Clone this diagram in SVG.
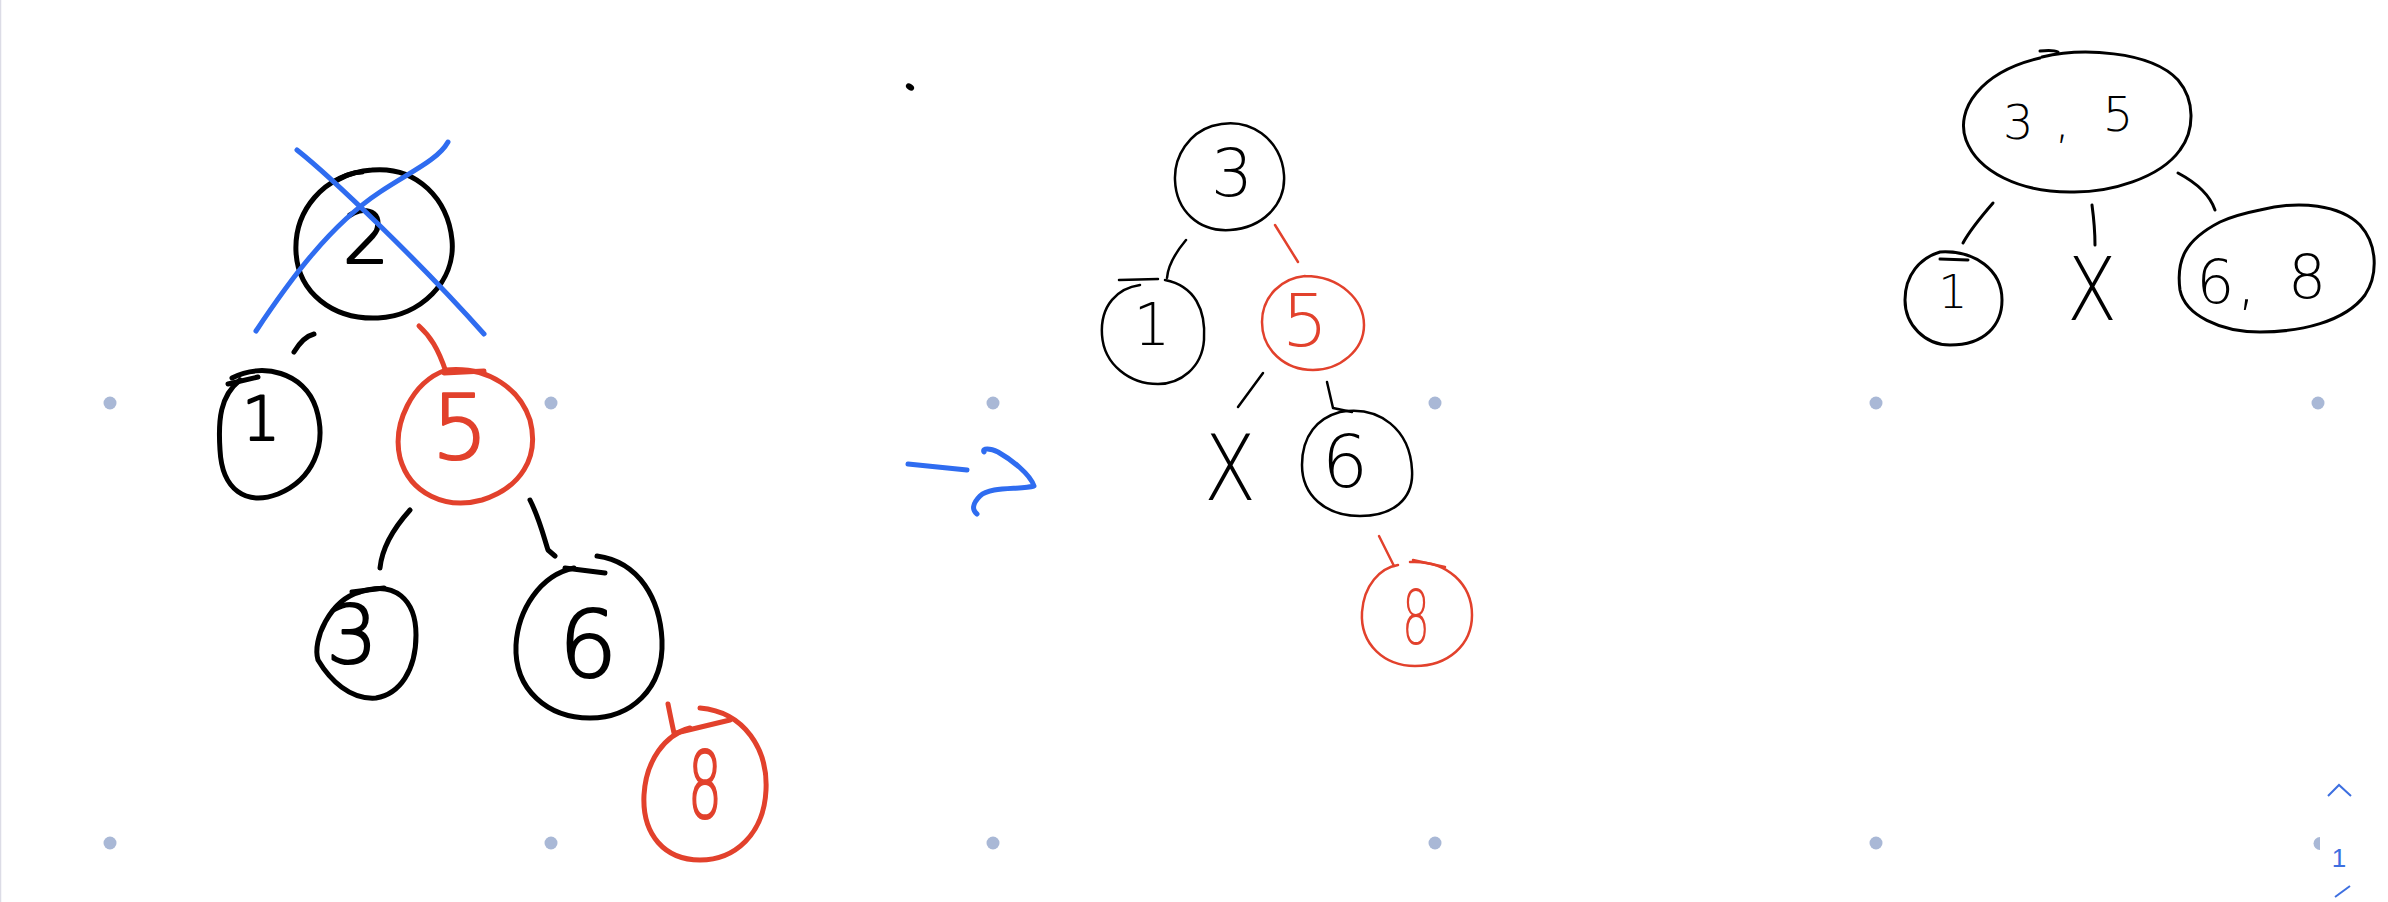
<svg xmlns="http://www.w3.org/2000/svg" width="2388" height="902" viewBox="0 0 2388 902">
<style>
.k{fill:none;stroke:#000;stroke-linecap:round;stroke-linejoin:round}
.r{fill:none;stroke:#e2412c;stroke-linecap:round;stroke-linejoin:round}
.b{fill:none;stroke:#2f6cf0;stroke-linecap:round;stroke-linejoin:round}
.w5{stroke-width:5}
.w3{stroke-width:3}
.w25{stroke-width:2.5}
.dot{fill:#a9b8d6}
.t1{font-family:"DejaVu Sans","Liberation Sans",sans-serif;font-weight:200;text-anchor:middle;stroke-width:2.2;stroke-linejoin:round}
.t2{font-family:"DejaVu Sans","Liberation Sans",sans-serif;font-weight:200;text-anchor:middle}
.tk{fill:#000;stroke:#000}
.tr{fill:#e2412c;stroke:#e2412c}
</style>
<rect width="2388" height="902" fill="#fff"/>
<line x1="0.5" y1="0" x2="0.5" y2="902" stroke="#dcdce6" stroke-width="1.5"/>
<g id="grid">
<circle class="dot" cx="110" cy="403" r="6.5"/>
<circle class="dot" cx="551" cy="403" r="6.5"/>
<circle class="dot" cx="993" cy="403" r="6.5"/>
<circle class="dot" cx="1435" cy="403" r="6.5"/>
<circle class="dot" cx="1876" cy="403" r="6.5"/>
<circle class="dot" cx="2318" cy="403" r="6.5"/>
<circle class="dot" cx="110" cy="843" r="6.5"/>
<circle class="dot" cx="551" cy="843" r="6.5"/>
<circle class="dot" cx="993" cy="843" r="6.5"/>
<circle class="dot" cx="1435" cy="843" r="6.5"/>
<circle class="dot" cx="1876" cy="843" r="6.5"/>
<path class="dot" d="M2320,837 A6.5,6.5 0 0 0 2320,850 Z"/>
</g>
<ellipse cx="910" cy="87" rx="4.5" ry="3" transform="rotate(35 910 87)" fill="#000"/>

<g id="connectors">
<path class="k w5" d="M294,352 C300,342 306,336 314,334"/>
<path class="r w5" d="M419,326 C430,336 438,348 446,372"/>
<path class="k w5" d="M410,510 C392,530 382,548 380,568"/>
<path class="k w5" d="M530,500 C540,520 544,538 548,550 L555,556"/>
<path class="r w5" d="M668,704 C670,714 672,724 674,733"/>
<path class="k w25" d="M1186,240 C1176,252 1168,264 1167,278"/>
<path class="r w25" d="M1275,225 L1298,262"/>
<path class="k w25" d="M1263,373 L1238,407"/>
<path class="k w25" d="M1327,382 L1333,408 L1352,412"/>
<path class="r w25" d="M1379,536 L1394,566"/>
<path class="k w3" d="M1993,203 C1980,218 1970,230 1963,243"/>
<path class="k w3" d="M2092,205 C2094,220 2095,235 2095,245"/>
<path class="k w3" d="M2178,173 C2195,182 2210,195 2215,210"/>
</g>

<g id="arrow">
<path class="b w5" d="M908,464 L967,470"/>
<path class="b w5" d="M984,452 C982,448 990,448 998,452 C1012,460 1030,474 1034,486 C1020,490 990,486 980,496 C972,504 972,510 977,514"/>
</g>

<g id="L-n2">
<path class="k w5" d="M372,170 C418,166 448,200 452,240 C456,282 420,316 378,318 C332,320 298,292 296,252 C294,212 322,174 372,170"/>
<path class="k w5" d="M334,182 C345,176 352,172 362,172"/>
<text class="t1 tk" x="366" y="263" font-size="73">2</text>
<path class="b w5" d="M297,150 C330,176 420,262 484,334"/>
<path class="b w5" d="M448,142 C438,160 410,172 380,192 C330,225 290,280 256,331"/>
</g>
<g id="L-n1">
<path class="k w5" d="M232,378 C262,362 304,372 316,408 C328,446 312,480 278,494 C246,506 222,490 220,450 C218,420 220,396 240,380"/>
<path class="k w5" d="M228,384 L258,377"/>
<text class="t1 tk" x="261" y="440" font-size="60">1</text>
</g>
<g id="L-n5">
<path class="r w5" d="M446,370 C490,366 520,390 530,420 C540,458 520,488 482,500 C446,510 410,494 400,458 C392,424 412,382 446,370"/>
<path class="r w5" d="M444,373 L484,371"/>
<text class="t1 tr" x="460" y="459" font-size="89">5</text>
</g>
<g id="L-n3">
<path class="k w5" d="M360,592 C395,580 416,600 416,635 C416,670 400,694 376,698 C350,700 330,680 318,660 C312,640 330,600 360,592"/>
<path class="k w5" d="M352,592 L384,588"/>
<text class="t1 tk" x="352" y="663" font-size="80">3</text>
</g>
<g id="L-n6">
<path class="k w5" d="M597,556 C640,562 660,600 662,640 C664,690 630,718 590,718 C548,718 514,690 516,645 C518,610 540,575 574,568"/>
<path class="k w5" d="M565,568 L605,573"/>
<text class="t1 tk" x="588" y="677" font-size="92">6</text>
</g>
<g id="L-n8">
<path class="r w5" d="M700,708 C745,712 768,750 766,790 C764,834 735,860 700,860 C665,860 642,835 644,795 C646,760 665,735 690,728"/>
<path class="r w5" d="M676,733 L730,720"/>
<text class="t1 tr" x="705" y="818" font-size="93" textLength="34" lengthAdjust="spacingAndGlyphs">8</text>
</g>

<g id="M-n3">
<path class="k w25" d="M1212,126 C1250,115 1282,140 1284,175 C1286,205 1262,228 1230,230 C1198,232 1176,210 1175,180 C1174,155 1190,133 1212,126"/>
<text class="t2" x="1232" y="196" font-size="66">3</text>
</g>
<g id="M-n1">
<path class="k w25" d="M1165,280 C1195,286 1206,310 1204,340 C1202,368 1180,384 1158,384 C1130,384 1104,365 1102,335 C1100,305 1118,288 1140,285"/>
<path class="k w25" d="M1119,280 L1158,279"/>
<text class="t2" x="1152" y="345" font-size="58">1</text>
</g>
<g id="M-n5">
<path class="r w25" d="M1305,276 C1340,276 1364,300 1364,325 C1364,350 1340,370 1313,370 C1285,370 1262,350 1262,322 C1262,296 1282,278 1305,276"/>
<text class="t2" x="1305" y="346" font-size="73" fill="#e2412c">5</text>
</g>
<g id="M-null">
<text class="t2" x="1230" y="500" font-size="90" textLength="52" lengthAdjust="spacingAndGlyphs">X</text>
</g>
<g id="M-n6">
<path class="k w25" d="M1340,412 C1380,405 1410,430 1412,470 C1414,500 1392,516 1360,516 C1325,516 1302,495 1302,465 C1302,435 1318,418 1340,412"/>
<text class="t2" x="1345" y="487" font-size="73">6</text>
</g>
<g id="M-n8">
<path class="r w25" d="M1410,562 C1448,560 1472,585 1472,615 C1472,645 1448,666 1415,666 C1385,666 1360,645 1362,612 C1364,585 1380,568 1398,565"/>
<path class="r w25" d="M1413,560 L1445,567"/>
<text class="t2" x="1416" y="644" font-size="75" fill="#e2412c" textLength="28" lengthAdjust="spacingAndGlyphs">8</text>
</g>

<g id="R-n35">
<path class="k w3" d="M2042,57 C2080,48 2150,50 2178,80 C2195,100 2195,130 2180,150 C2160,178 2110,193 2070,192 C2020,192 1978,172 1966,140 C1955,110 1980,72 2040,58"/>
<path class="k w3" d="M2040,51 C2048,50 2054,50 2058,52"/>
<text class="t2" font-size="48"><tspan x="2026" y="139">3</tspan> <tspan x="2070" y="137">,</tspan> <tspan x="2118" y="131">5</tspan></text>
</g>
<g id="R-n1">
<path class="k w3" d="M1940,252 C1975,250 2002,270 2002,300 C2002,325 1985,345 1950,345 C1925,345 1905,325 1905,300 C1905,275 1920,258 1940,252"/>
<path class="k w3" d="M1940,259 L1968,260"/>
<text class="t2" x="1953" y="308" font-size="46">1</text>
</g>
<g id="R-null">
<text class="t2" x="2092" y="320" font-size="88" textLength="50" lengthAdjust="spacingAndGlyphs">X</text>
</g>
<g id="R-n68">
<path class="k w3" d="M2260,210 C2300,200 2340,205 2360,225 C2378,245 2378,275 2365,295 C2345,322 2300,332 2260,332 C2220,332 2185,315 2180,290 C2176,260 2185,240 2220,222 C2235,215 2250,212 2260,210"/>
<text class="t2" font-size="60"><tspan x="2225" y="303">6</tspan> <tspan x="2256" y="303">,</tspan> <tspan x="2307" y="298">8</tspan></text>
</g>

<g id="pager">
<path d="M2328,796 L2339,785 L2351,796" fill="none" stroke="#3d6fe0" stroke-width="2"/>
<text x="2339" y="867" font-size="26" font-family="Liberation Sans, sans-serif" text-anchor="middle" fill="#3d6fe0">1</text>
<path d="M2335,897 L2350,886" fill="none" stroke="#3d6fe0" stroke-width="2"/>
</g>
</svg>
